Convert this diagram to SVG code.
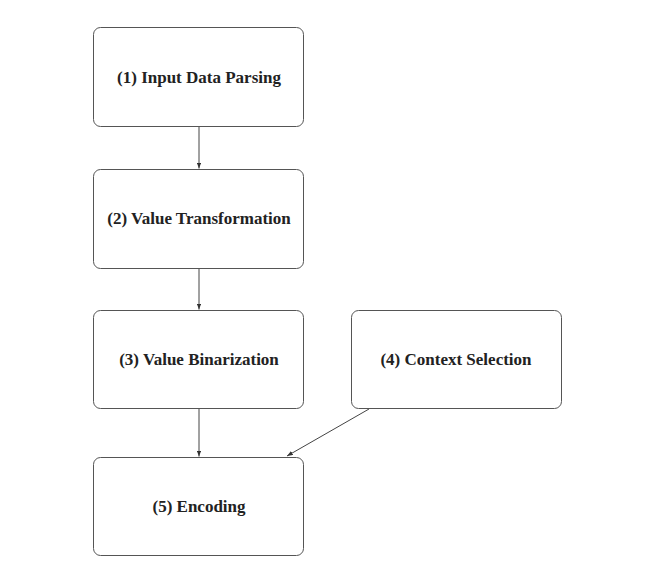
<svg xmlns="http://www.w3.org/2000/svg" width="649" height="586" viewBox="0 0 649 586">
<style>
.box{fill:#fff;stroke:#555;stroke-width:1}
.lbl{font-family:"Liberation Serif","Times New Roman",serif;font-weight:bold;font-size:17px;fill:#222;text-anchor:middle}
.edge{stroke:#444;stroke-width:1;fill:none;marker-end:url(#ah)}
</style>
<defs>
<marker id="ah" viewBox="0 0 8 6" refX="8" refY="3" markerWidth="6" markerHeight="4.5" orient="auto" markerUnits="userSpaceOnUse">
<path d="M0,0 L8,3 L0,6 z" fill="#333"/>
</marker>
</defs>
<rect width="649" height="586" fill="#fff"/>
<g id="connectors">
<line class="edge" x1="199" y1="127" x2="199" y2="168.5"/>
<line class="edge" x1="199" y1="268" x2="199" y2="309.5"/>
<line class="edge" x1="199" y1="409" x2="199" y2="456.5"/>
<line class="edge" x1="369" y1="409" x2="287" y2="456"/>
</g>
<g id="n1"><rect class="box" x="93.5" y="27.5" width="210" height="99" rx="7"/><text class="lbl" x="199" y="83">(1) Input Data Parsing</text></g>
<g id="n2"><rect class="box" x="93.5" y="169.5" width="210" height="99" rx="7"/><text class="lbl" x="199" y="224">(2) Value Transformation</text></g>
<g id="n3"><rect class="box" x="93.5" y="310.5" width="210" height="98" rx="7"/><text class="lbl" x="199" y="365">(3) Value Binarization</text></g>
<g id="n4"><rect class="box" x="351.5" y="310.5" width="210" height="98" rx="7"/><text class="lbl" x="456" y="365">(4) Context Selection</text></g>
<g id="n5"><rect class="box" x="93.5" y="457.5" width="210" height="98" rx="7"/><text class="lbl" x="199" y="512">(5) Encoding</text></g>
</svg>
